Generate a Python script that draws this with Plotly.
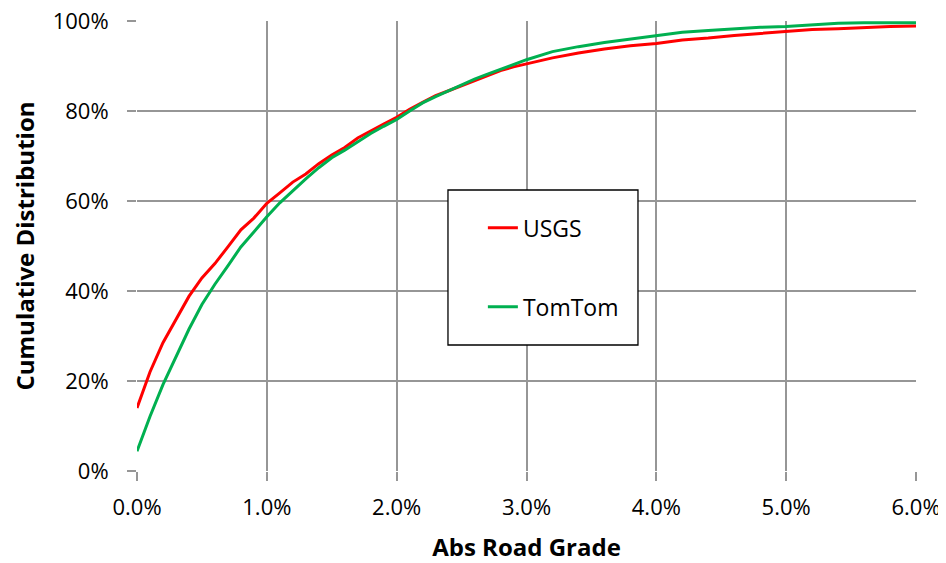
import plotly.graph_objects as go

grade = [0, 0.1, 0.2, 0.3, 0.4, 0.5, 0.6, 0.7, 0.8, 0.9, 1.0, 1.1, 1.2, 1.3, 1.4, 1.5,
         1.6, 1.7, 1.8, 1.9, 2.0, 2.1, 2.2, 2.3, 2.4, 2.5, 2.6, 2.7, 2.8, 2.9, 3.0,
         3.2, 3.4, 3.6, 3.8, 4.0, 4.2, 4.4, 4.6, 4.8, 5.0, 5.2, 5.4, 5.6, 5.8, 6.0]
usgs = [14, 22, 28.5, 33.7, 38.8, 42.9, 46.1, 49.8, 53.6, 56.2, 59.5, 61.8, 64.2, 66.0,
        68.3, 70.2, 71.9, 74.0, 75.6, 77.1, 78.6, 80.4, 81.9, 83.4, 84.5, 85.6, 86.8,
        87.8, 89.0, 89.8, 90.5, 91.8, 92.9, 93.8, 94.5, 95.0, 95.8, 96.2, 96.8, 97.2,
        97.7, 98.1, 98.3, 98.6, 98.8, 98.9]
tomtom = [4.4, 12.1, 19.2, 25.5, 31.5, 37.0, 41.5, 45.6, 49.8, 53.1, 56.5, 59.6, 62.3,
          64.9, 67.4, 69.6, 71.3, 73.1, 75.0, 76.6, 78.1, 80.0, 81.8, 83.2, 84.5, 85.8,
          87.1, 88.2, 89.3, 90.3, 91.4, 93.2, 94.3, 95.2, 96.0, 96.7, 97.5, 97.9, 98.3,
          98.6, 98.8, 99.2, 99.5, 99.6, 99.6, 99.6]

x_ticks = [0, 1, 2, 3, 4, 5, 6]
x_labels = ["0.0%", "1.0%", "2.0%", "3.0%", "4.0%", "5.0%", "6.0%"]
y_ticks = [0, 20, 40, 60, 80, 100]
y_labels = ["0%", "20%", "40%", "60%", "80%", "100%"]

FONT = "Open Sans"
GRID = "#969696"

fig = go.Figure()
fig.add_trace(go.Scatter(x=grade, y=usgs, mode="lines", name="USGS",
                         line=dict(color="#FF0000", width=3), legendgroup="a"))
fig.add_trace(go.Scatter(x=grade, y=tomtom, mode="lines", name="TomTom",
                         line=dict(color="#00B050", width=3), legendgroup="b"))

# page has an 8px body margin, so the figure is offset by 8px
fig.update_layout(
    width=938, height=555,
    margin=dict(l=129, r=30, t=13, b=92, autoexpand=False),
    paper_bgcolor="white", plot_bgcolor="white",
    font=dict(family=FONT, size=22, color="black"),
    showlegend=True,
    legend=dict(x=0.444, y=0.588, xanchor="left", yanchor="top",
                bgcolor="rgba(0,0,0,0)", borderwidth=0,
                font=dict(family=FONT, size=23, color="black"),
                tracegroupgap=46, traceorder="grouped"),
    shapes=[dict(type="rect", xref="paper", yref="paper",
                 x0=0.3992, x1=0.6431, y0=0.28, y1=0.6244,
                 line=dict(color="black", width=1.3), fillcolor="white",
                 layer="above")],
)
fig.update_xaxes(
    range=[0, 6], tickvals=x_ticks, ticktext=x_labels,
    showgrid=True, gridcolor=GRID, gridwidth=1.5,
    showline=False, zeroline=False, automargin=False,
    ticks="outside", ticklen=9, tickcolor=GRID, tickwidth=1.5,
    ticklabelstandoff=8, ticklabeloverflow="allow",
    title=dict(text="<b>Abs Road Grade</b>", font=dict(family=FONT, size=24), standoff=21),
)
fig.update_yaxes(
    range=[0, 100], tickvals=y_ticks, ticktext=y_labels,
    showgrid=True, gridcolor=GRID, gridwidth=1.5,
    showline=False, zeroline=False, automargin=False,
    ticks="outside", ticklen=9, tickcolor=GRID, tickwidth=1.5,
    ticklabelstandoff=14, ticklabeloverflow="allow",
    title=dict(text="<b>Cumulative Distribution</b>", font=dict(family=FONT, size=24), standoff=19),
)

fig.write_html("out.html")
